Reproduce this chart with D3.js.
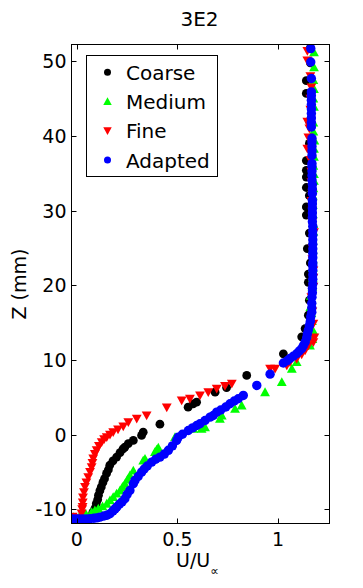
<!DOCTYPE html>
<html><head><meta charset="utf-8">
<script src="https://cdn.jsdelivr.net/npm/d3@7"></script>
<style>body{margin:0;background:#fff}svg{display:block}text{font-family:"DejaVu Sans",sans-serif;fill:#000}</style>
</head><body><svg id="c" width="363" height="588"></svg>
<script>
const titleText = "3E2";
const seriesNames = ["Coarse", "Medium", "Fine", "Adapted"];
const seriesColors = ["#000000", "#00ff00", "#ff0000", "#0000ff"];
const seriesShapes = ["circle", "up", "down", "circle"];
const xTicks = [0, 0.5, 1];
const xTickLabels = ["0", "0.5", "1"];
const yTicks = [-10, 0, 10, 20, 30, 40, 50];
const yTickLabels = ["-10", "0", "10", "20", "30", "40", "50"];

// Coarse: [U/Uinf, Z(mm)]
const coarse = [[0.060,-11.30],[0.075,-10.90],[0.080,-10.40],[0.090,-9.90],[0.097,-9.25],[0.104,-8.70],[0.108,-8.10],[0.115,-7.50],[0.122,-7.00],[0.130,-6.40],[0.138,-5.90],[0.148,-5.20],[0.157,-4.70],[0.164,-4.10],[0.180,-3.50],[0.198,-3.00],[0.215,-2.40],[0.230,-1.90],[0.239,-1.67],[0.256,-1.20],[0.281,-0.78],[0.322,-0.10],[0.330,0.33],[0.413,1.40],[0.553,3.68],[0.578,4.13],[0.595,4.35],[0.687,5.69],[0.744,6.30],[0.844,7.93],[1.026,10.83],[1.117,13.10],[1.134,14.20],[1.150,16.0],[1.155,18.0],[1.150,20.4],[1.150,21.5],[1.160,23.0],[1.145,24.9],[1.155,27.0],[1.140,29.4],[1.140,30.5],[1.155,32.0],[1.140,33.1],[1.140,34.5],[1.140,35.4],[1.140,36.7],[1.155,39.0],[1.155,42.0],[1.140,45.7],[1.140,47.4],[1.160,49.8],[1.160,51.8]];

const medium = [[-0.034,-11.49],[-0.017,-11.05],[0.016,-10.82],[0.045,-10.60],[0.074,-10.38],[0.090,-10.15],[0.107,-9.92],[0.128,-9.60],[0.149,-9.25],[0.165,-8.80],[0.181,-8.37],[0.198,-7.90],[0.215,-7.47],[0.227,-7.00],[0.239,-6.58],[0.252,-6.00],[0.264,-5.46],[0.281,-4.80],[0.330,-3.46],[0.339,-3.23],[0.388,-2.34],[0.397,-2.00],[0.405,-1.75],[0.488,-0.33],[0.579,0.79],[0.620,0.79],[0.637,1.00],[0.711,2.13],[0.720,2.57],[0.786,3.47],[0.819,3.91],[0.935,5.69],[1.018,7.03],[1.068,8.83],[1.092,9.71],[1.158,11.95],[1.170,12.8],[1.172,14.0],[1.168,15.2],[1.165,16.3],[1.160,17.1],[1.162,18.6],[1.170,19.8],[1.172,21.0],[1.172,22.3],[1.172,23.5],[1.172,24.8],[1.172,26.0],[1.175,27.2],[1.175,28.2],[1.172,29.5],[1.172,30.8],[1.172,32.0],[1.175,33.0],[1.178,34.0],[1.178,34.9],[1.175,36.0],[1.178,37.2],[1.178,38.3],[1.180,39.4],[1.175,40.6],[1.175,41.8],[1.178,43.9],[1.175,45.0],[1.178,46.3],[1.175,47.5],[1.178,49.2],[1.178,51.2]];

const fine = [[0.000,-11.80],[-0.020,-11.00],[0.010,-11.20],[0.024,-10.55],[0.027,-10.00],[0.029,-9.70],[0.030,-9.10],[0.031,-8.40],[0.036,-7.70],[0.041,-7.00],[0.048,-6.40],[0.057,-5.70],[0.066,-5.00],[0.074,-4.35],[0.078,-3.80],[0.082,-3.20],[0.090,-2.60],[0.099,-2.10],[0.110,-1.50],[0.124,-1.00],[0.136,-0.60],[0.149,-0.33],[0.165,0.00],[0.181,0.33],[0.205,0.70],[0.231,1.10],[0.256,1.67],[0.298,2.13],[0.347,2.57],[0.447,3.65],[0.521,4.58],[0.562,4.80],[0.612,5.25],[0.653,5.69],[0.695,6.15],[0.736,6.52],[0.770,6.82],[0.960,8.83],[0.985,8.83],[1.043,9.27],[1.059,9.71],[1.092,10.16],[1.117,10.74],[1.134,11.28],[1.150,11.95],[1.175,12.39],[1.180,13.0],[1.175,14.85],[1.170,16.5],[1.165,18.4],[1.175,19.8],[1.175,21.0],[1.175,22.0],[1.170,23.5],[1.170,25.0],[1.178,27.1],[1.170,28.5],[1.170,30.0],[1.165,31.3],[1.170,32.3],[1.165,33.8],[1.165,35.2],[1.160,36.8],[1.145,38.3],[1.150,39.8],[1.155,41.0],[1.145,41.9],[1.160,43.5],[1.160,45.0],[1.165,46.5],[1.160,48.0],[1.145,50.1],[1.145,51.4]];

const adapted = [[-0.022,-11.30],[-0.005,-11.30],[0.012,-11.30],[0.030,-11.30],[0.048,-11.30],[0.066,-11.27],[0.085,-11.20],[0.100,-11.15],[0.115,-11.05],[0.135,-10.90],[0.150,-10.80],[0.165,-10.60],[0.180,-10.20],[0.190,-9.95],[0.198,-9.70],[0.212,-9.30],[0.225,-9.00],[0.239,-8.58],[0.250,-8.00],[0.264,-7.47],[0.281,-6.58],[0.289,-6.13],[0.305,-5.60],[0.322,-5.02],[0.335,-4.60],[0.350,-4.20],[0.372,-3.68],[0.392,-3.30],[0.413,-3.01],[0.435,-2.60],[0.455,-2.10],[0.475,-1.50],[0.496,-0.78],[0.504,-0.33],[0.525,0.05],[0.554,0.56],[0.575,0.90],[0.596,1.23],[0.612,1.46],[0.637,1.90],[0.662,2.34],[0.678,2.57],[0.695,3.01],[0.715,3.30],[0.740,3.70],[0.761,4.14],[0.782,4.50],[0.802,4.81],[0.827,5.25],[0.894,6.59],[0.960,8.10],[1.026,9.60],[1.045,9.90],[1.059,10.20],[1.075,10.50],[1.092,10.83],[1.105,11.20],[1.117,11.50],[1.125,11.90],[1.134,12.39],[1.142,13.00],[1.145,13.50],[1.150,14.0],[1.155,14.6],[1.160,15.2],[1.162,15.8],[1.167,16.4],[1.167,17.0],[1.167,17.6],[1.168,18.4],[1.170,19.0],[1.170,19.6],[1.172,20.2],[1.172,20.8],[1.172,21.4],[1.172,22.0],[1.172,22.6],[1.172,23.0],[1.172,23.7],[1.172,24.3],[1.172,24.9],[1.172,25.5],[1.172,26.1],[1.172,26.7],[1.172,27.3],[1.172,27.9],[1.170,28.5],[1.170,29.1],[1.170,29.7],[1.170,30.3],[1.170,30.9],[1.170,31.4],[1.170,32.3],[1.170,32.9],[1.170,33.5],[1.168,34.1],[1.168,34.7],[1.168,35.3],[1.168,35.9],[1.168,36.3],[1.168,37.4],[1.168,38.0],[1.168,38.6],[1.168,39.2],[1.168,39.7],[1.165,41.2],[1.165,41.8],[1.165,42.4],[1.165,43.0],[1.165,43.6],[1.165,44.2],[1.165,44.8],[1.165,45.4],[1.165,45.9],[1.165,47.7],[1.162,49.9],[1.162,51.7]];

const allSeries = [coarse, medium, fine, adapted];
const markerSizes = [8.8, 9.8, 9.8, 9.4];

const W = 363, H = 588;
const pLeft = 71.5, pRight = 329.5, pTop = 44.5, pBottom = 523.5;
const x = d3.scaleLinear().domain([-0.026, 1.255]).range([pLeft, pRight]);
const y = d3.scaleLinear().domain([-11.9, 52.25]).range([pBottom, pTop]);

const svg = d3.select("#c");
svg.append("rect").attr("width", W).attr("height", H).attr("fill", "#fff");

function shapePath(shape, s) {
  const h = s * 0.9;
  if (shape === "up") return `M0,${-h*0.55}L${s/2},${h*0.45}L${-s/2},${h*0.45}Z`;
  return `M0,${h*0.55}L${s/2},${-h*0.45}L${-s/2},${-h*0.45}Z`;
}
function drawMarker(g, shape, color, cx, cy, size) {
  if (shape === "circle") {
    g.append("circle").attr("cx", cx).attr("cy", cy).attr("r", size / 2).attr("fill", color);
  } else {
    g.append("path").attr("d", shapePath(shape, size)).attr("transform", `translate(${cx},${cy})`).attr("fill", color);
  }
}

svg.append("clipPath").attr("id", "pc").append("rect")
  .attr("x", pLeft).attr("y", pTop).attr("width", pRight - pLeft).attr("height", pBottom - pTop);
const plot = svg.append("g").attr("clip-path", "url(#pc)");
allSeries.forEach((data, i) => {
  const g = plot.append("g");
  data.forEach(d => drawMarker(g, seriesShapes[i], seriesColors[i], x(d[0]), y(d[1]), markerSizes[i]));
});

// axes
const tl = 5;
const axG = svg.append("g").attr("stroke", "#000").attr("stroke-width", 1);
axG.append("rect").attr("x", pLeft).attr("y", pTop).attr("width", pRight - pLeft).attr("height", pBottom - pTop).attr("fill", "none");
xTicks.forEach(t => {
  const xx = Math.round(x(t)) + 0.5;
  axG.append("line").attr("x1", xx).attr("x2", xx).attr("y1", pBottom).attr("y2", pBottom - tl);
  axG.append("line").attr("x1", xx).attr("x2", xx).attr("y1", pTop).attr("y2", pTop + tl);
});
yTicks.forEach(t => {
  const yy = Math.round(y(t)) + 0.5;
  axG.append("line").attr("x1", pLeft).attr("x2", pLeft + tl).attr("y1", yy).attr("y2", yy);
  axG.append("line").attr("x1", pRight).attr("x2", pRight - tl).attr("y1", yy).attr("y2", yy);
});
xTicks.forEach((t, i) => {
  svg.append("text").attr("x", x(t)).attr("y", 546).attr("text-anchor", "middle").attr("font-size", 19).text(xTickLabels[i]);
});
yTicks.forEach((t, i) => {
  svg.append("text").attr("x", 66.5).attr("y", y(t) + 7).attr("text-anchor", "end").attr("font-size", 19).text(yTickLabels[i]);
});

// title
svg.append("text").attr("x", (pLeft + pRight) / 2 - 1).attr("y", 26).attr("text-anchor", "middle").attr("font-size", 20).text(titleText);

// axis labels
svg.append("text").attr("transform", `translate(26,${(pTop + pBottom) / 2}) rotate(-90)`).attr("text-anchor", "middle").attr("font-size", 19).text("Z (mm)");
const xl = svg.append("text").attr("x", 176).attr("y", 567).attr("font-size", 19);
xl.append("tspan").text("U/U");
xl.append("tspan").attr("font-size", 12).attr("dy", 8).text("∝");

// legend
const lg = svg.append("g");
lg.append("rect").attr("x", 86.5).attr("y", 55.5).attr("width", 131).attr("height", 121).attr("fill", "#fff").attr("stroke", "#000");
const legY = [72.3, 101.5, 130.7, 160];
seriesNames.forEach((n, i) => {
  drawMarker(lg, seriesShapes[i], seriesColors[i], 107.5, legY[i], seriesShapes[i] === "circle" ? 7 : 8.5);
  lg.append("text").attr("x", 126).attr("y", legY[i] + 7.5).attr("font-size", 20).text(n);
});
</script>
</body></html>
